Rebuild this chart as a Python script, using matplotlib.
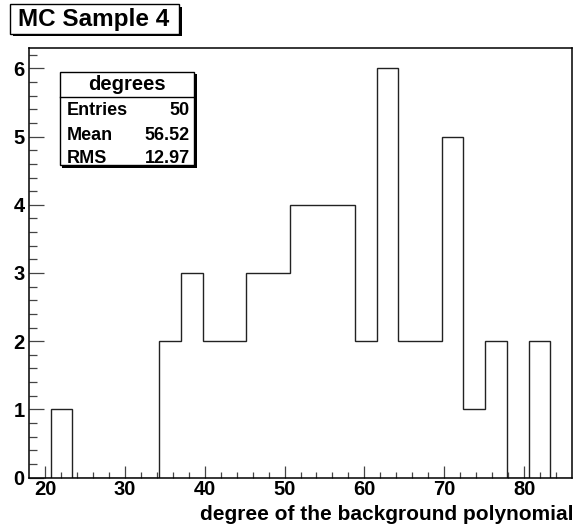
import matplotlib
matplotlib.use("Agg")
import matplotlib.pyplot as plt
import numpy as np
from matplotlib.patches import Rectangle
from matplotlib.lines import Line2D
from matplotlib.ticker import MultipleLocator, FixedLocator

# ---- data ----
title = "MC Sample 4"
x_label = "degree of the background polynomial"
hist_name = "degrees"
x_min, x_max, n_bins = 18.0, 86.0, 25
counts = [0, 1, 0, 0, 0, 0, 2, 3, 2, 2, 3, 3, 4, 4, 4, 2, 6, 2, 2, 5, 1, 2, 0, 2, 0]
stat_names = ["Entries", "Mean", "RMS"]
stat_values = ["50", "56.52", "12.97"]
x_ticks = [20, 30, 40, 50, 60, 70, 80]
y_ticks = [0, 1, 2, 3, 4, 5, 6]
y_max = 6.3

W, H = 575, 525
DPI = 100
plt.rcParams['font.family'] = ['Liberation Sans', 'DejaVu Sans']
plt.rcParams['font.weight'] = 'bold'

fig = plt.figure(figsize=(W / DPI, H / DPI), dpi=DPI)

def fx(px):
    return px / W

def fy(py):
    return 1 - py / H

# axes frame in pixels: left 29, right 572, top 48, bottom 477.5
L, R, T, B = 29, 572, 48, 477.5
ax = fig.add_axes([fx(L), fy(B), fx(R) - fx(L), fy(T) - fy(B)])

edges = np.linspace(x_min, x_max, n_bins + 1)
ax.stairs(counts, edges, baseline=0, color='#222222', linewidth=1.0)

ax.set_xlim(x_min, x_max)
ax.set_ylim(0, y_max)
ax.xaxis.set_major_locator(FixedLocator(x_ticks))
ax.xaxis.set_minor_locator(FixedLocator([v for v in np.arange(20, 86, 2) if v not in x_ticks]))
ax.yaxis.set_major_locator(FixedLocator(y_ticks))
ax.yaxis.set_minor_locator(MultipleLocator(0.2))

ax.tick_params(axis='x', which='major', direction='in', length=8.6, width=0.9,
               color='#444444', labelsize=14.5, pad=1.5)
ax.tick_params(axis='x', which='minor', direction='in', length=4.3, width=0.9,
               color='#444444')
ax.tick_params(axis='y', which='major', direction='in', length=10.8, width=0.9,
               color='#444444', labelsize=14.5, pad=3)
ax.tick_params(axis='y', which='minor', direction='in', length=5.8, width=0.9,
               color='#444444')
for lab in ax.get_xticklabels() + ax.get_yticklabels():
    lab.set_fontweight('bold')
for sp in ax.spines.values():
    sp.set_linewidth(1.1)
    sp.set_color('black')

# x label, right aligned
fig.text(fx(573), fy(520), x_label, ha='right', va='baseline',
         fontsize=15, fontweight='bold')

# ---- title box ----
def shadow_box(x0, y0, x1, y1, sh=2.5):
    fig.patches.append(Rectangle((fx(x0 + sh), fy(y1 + sh)), fx(x1 - x0), fy(y0) - fy(y1),
                                 transform=fig.transFigure, facecolor='black',
                                 edgecolor='none', zorder=5))
    fig.patches.append(Rectangle((fx(x0), fy(y1)), fx(x1 - x0), fy(y0) - fy(y1),
                                 transform=fig.transFigure, facecolor='white',
                                 edgecolor='black', linewidth=1.0, zorder=6))

shadow_box(10, 4, 179, 33.5)
fig.text(fx(94), fy(19.5), title, ha='center', va='center', fontsize=17.5,
         fontweight='bold', zorder=7)

# ---- stats box ----
bx0, by0, bx1, by1 = 59.5, 71.5, 194, 165
shadow_box(bx0, by0, bx1, by1)
fig.lines.append(Line2D([fx(bx0), fx(bx1)], [fy(96.5), fy(96.5)],
                        transform=fig.transFigure, color='black', linewidth=1.0, zorder=7))
fig.text(fx((bx0 + bx1) / 2), fy(84), hist_name, ha='center', va='center',
         fontsize=14.5, fontweight='bold', zorder=8)
row_y = [110.5, 135, 158.5]
for name, val, yy in zip(stat_names, stat_values, row_y):
    fig.text(fx(66.5), fy(yy), name, ha='left', va='center', fontsize=13,
             fontweight='bold', zorder=8)
    fig.text(fx(189.5), fy(yy), val, ha='right', va='center', fontsize=13,
             fontweight='bold', zorder=8)

fig.savefig("out.png", dpi=DPI)
